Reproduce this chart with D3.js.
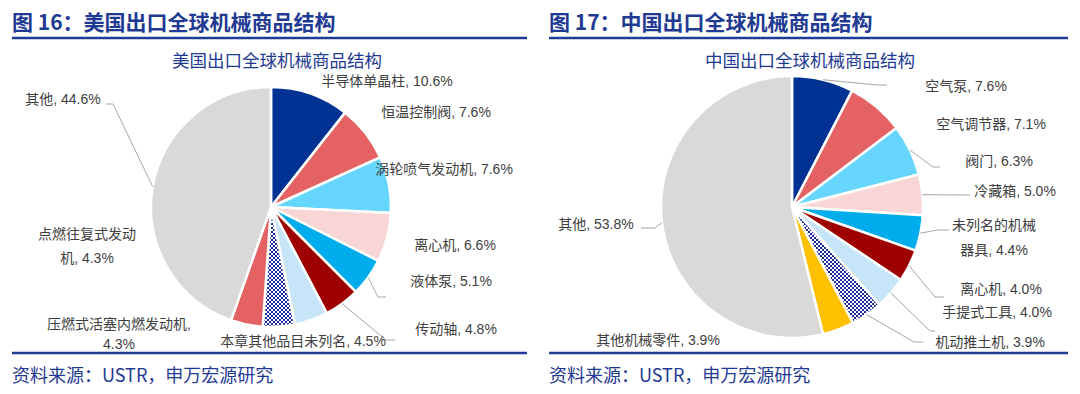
<!DOCTYPE html>
<html>
<head>
<meta charset="utf-8">
<script src="https://cdn.jsdelivr.net/npm/d3@7"></script>
<style>
  body { margin: 0; background: #fff; }
  svg { display: block; }
</style>
</head>
<body>
<div id="chart"></div>
<script>
// ---- data ----
const usCategories = ["半导体单晶柱", "恒温控制阀", "涡轮喷气发动机", "离心机", "液体泵",
  "传动轴", "本章其他品目未列名", "压燃式活塞内燃发动机", "点燃往复式发动机", "其他"];
const usValues = [10.6, 7.6, 7.6, 6.6, 5.1, 4.8, 4.5, 4.3, 4.3, 44.6];

const cnCategories = ["空气泵", "空气调节器", "阀门", "冷藏箱", "未列名的机械器具",
  "离心机", "手提式工具", "机动推土机", "其他机械零件", "其他"];
const cnValues = [7.6, 7.1, 6.3, 5.0, 4.4, 4.0, 4.0, 3.9, 3.9, 53.8];

// ---- styles ----
const blueText = "#1F3A93";
const labelColor = "#404040";
const lineColor = "#A6A6A6";
const usColors = ["#003293", "#E46264", "#66D6FF", "#F9D5D6", "#00ADEC",
  "#9E0000", "#C6E5F8", "url(#checker)", "#E46264", "#D9D9D9"];
const cnColors = ["#003293", "#E46264", "#66D6FF", "#F9D5D6", "#00ADEC",
  "#9E0000", "#C6E5F8", "url(#checker)", "#FFC000", "#D9D9D9"];

// label placement (visual centre of text), optional line break index and leader elbow/end
const usLabels = [
  { x: 387, y: 81 },
  { x: 436, y: 112 },
  { x: 444, y: 169 },
  { x: 455, y: 245 },
  { x: 451, y: 281, leader: [[378, 297], [386, 297]] },
  { x: 456, y: 329, leader: [[386, 340], [395, 340]] },
  { x: 303, y: 341 },
  { x: 119, y: 324, brk: 11, lh: 20 },
  { x: 87, y: 234, brk: 7, lh: 24 },
  { x: 63, y: 99, leader: [[113, 104], [106, 104]] }
];
const cnLabels = [
  { x: 966, y: 86, leader: [[877, 85], [887, 85]] },
  { x: 991, y: 124 },
  { x: 999, y: 161, leader: [[933, 167], [940, 167]] },
  { x: 1015, y: 191, leader: [[970, 195]] },
  { x: 994, y: 225, brk: 6, lh: 25, leader: [[937, 230], [949, 230]] },
  { x: 1001, y: 289, leader: [[935, 297], [944, 297]] },
  { x: 997, y: 312, leader: [[930, 331], [935, 331]] },
  { x: 990, y: 342, leader: [[914, 342], [923, 342]] },
  { x: 658, y: 340 },
  { x: 596, y: 224, leader: [[655, 228], [641, 228]] }
];

const W = 1080, H = 394;
const svg = d3.select("#chart").append("svg")
  .attr("width", W).attr("height", H)
  .attr("font-family", "'Liberation Sans', Arial, 'Noto Sans CJK SC', sans-serif");

// checkered fill
const pat = svg.append("defs").append("pattern")
  .attr("id", "checker").attr("patternUnits", "userSpaceOnUse")
  .attr("width", 4).attr("height", 4);
pat.append("rect").attr("width", 4).attr("height", 4).attr("fill", "#fff");
pat.append("rect").attr("width", 2).attr("height", 2).attr("fill", "#1B2A9A");
pat.append("rect").attr("x", 2).attr("y", 2).attr("width", 2).attr("height", 2).attr("fill", "#1B2A9A");

function drawPanel(opt) {
  const g = svg.append("g");

  // header
  g.append("text")
    .attr("x", opt.x0).attr("y", 30)
    .attr("fill", blueText)
    .attr("font-family", "'Noto Sans CJK SC', sans-serif")
    .attr("font-weight", "bold")
    .attr("font-size", 21)
    .text(opt.header);
  g.append("line")
    .attr("x1", opt.x0).attr("x2", opt.x1)
    .attr("y1", 38).attr("y2", 38)
    .attr("stroke", "#1E3C96").attr("stroke-width", 2.5);

  // chart title
  g.append("text")
    .attr("x", opt.titleX).attr("y", 61)
    .attr("dy", "0.35em")
    .attr("text-anchor", "middle")
    .attr("fill", blueText)
    .attr("font-family", "'Noto Sans CJK SC', sans-serif")
    .attr("font-size", 17.5)
    .text(opt.title);

  // pie
  const data = opt.categories.map((c, i) => ({ name: c, value: opt.values[i] }));
  const pie = d3.pie().sort(null).value(d => d.value);
  const arcs = pie(data);
  const arc = d3.arc().innerRadius(0).outerRadius(opt.r);

  const pg = g.append("g").attr("transform", `translate(${opt.cx},${opt.cy})`);
  pg.selectAll("path.slice")
    .data(arcs)
    .join("path")
    .attr("class", "slice")
    .attr("d", arc)
    .attr("fill", (d, i) => opt.colors[i])
    .attr("stroke", "#fff")
    .attr("stroke-width", 2.5)
    .attr("stroke-linejoin", "round");

  // leader lines
  arcs.forEach((a, i) => {
    const lay = opt.labels[i];
    if (!lay.leader) return;
    const mid = (a.startAngle + a.endAngle) / 2;
    const start = [opt.cx + opt.r * Math.sin(mid), opt.cy - opt.r * Math.cos(mid)];
    g.append("path")
      .datum([start, ...lay.leader])
      .attr("d", d3.line())
      .attr("fill", "none")
      .attr("stroke", lineColor)
      .attr("stroke-width", 1);
  });

  // labels
  arcs.forEach((a, i) => {
    const lay = opt.labels[i];
    const full = `${a.data.name}, ${a.data.value.toFixed(1)}%`;
    const lines = lay.brk ? [full.slice(0, lay.brk).trim(), full.slice(lay.brk).trim()] : [full];
    const t = g.append("text")
      .attr("text-anchor", "middle")
      .attr("fill", labelColor)
      .attr("font-size", 14);
    lines.forEach((ln, j) => {
      t.append("tspan")
        .attr("x", lay.x)
        .attr("y", lay.y + j * (lay.lh || 0))
        .attr("dy", "0.35em")
        .text(ln);
    });
  });

  // footer
  g.append("line")
    .attr("x1", opt.x0).attr("x2", opt.x1)
    .attr("y1", 353).attr("y2", 353)
    .attr("stroke", "#1E3C96").attr("stroke-width", 2.5);
  g.append("text")
    .attr("x", opt.x0).attr("y", 376)
    .attr("dy", "0.35em")
    .attr("fill", blueText)
    .attr("font-family", "'Noto Sans CJK SC', sans-serif")
    .attr("font-size", 18)
    .text("资料来源：USTR，申万宏源研究");
}

drawPanel({
  x0: 12, x1: 527,
  header: "图 16：美国出口全球机械商品结构",
  title: "美国出口全球机械商品结构", titleX: 277,
  cx: 271, cy: 207, r: 120,
  categories: usCategories, values: usValues, colors: usColors, labels: usLabels
});
drawPanel({
  x0: 549, x1: 1068,
  header: "图 17：中国出口全球机械商品结构",
  title: "中国出口全球机械商品结构", titleX: 810,
  cx: 792, cy: 207, r: 131,
  categories: cnCategories, values: cnValues, colors: cnColors, labels: cnLabels
});
</script>
</body>
</html>
